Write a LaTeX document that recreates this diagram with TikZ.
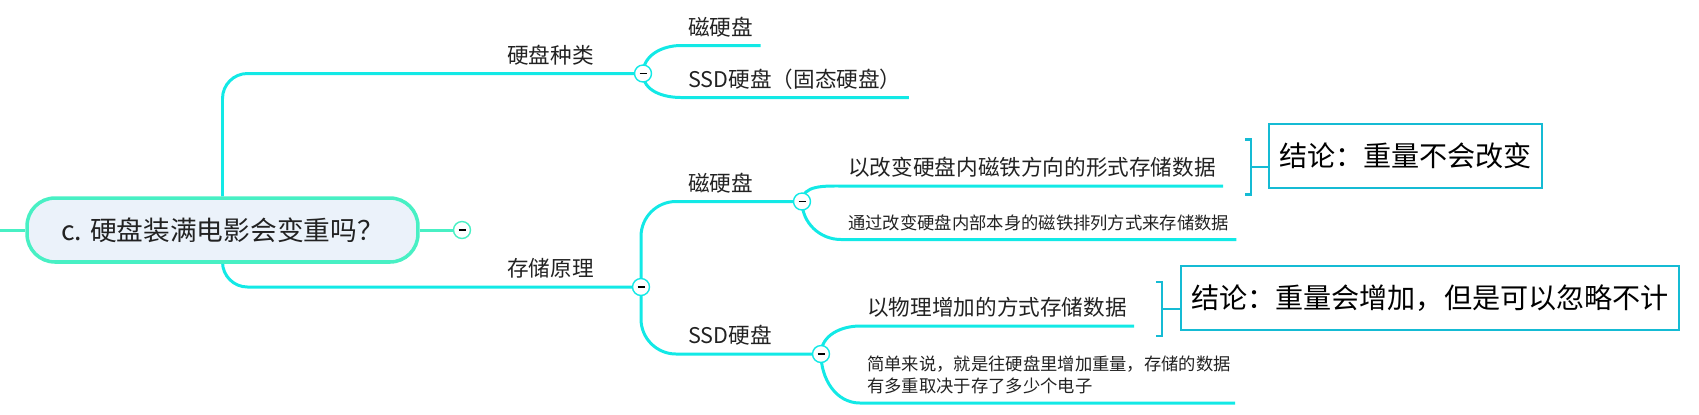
\documentclass[tikz,border=0pt]{standalone}
\usepackage{fontspec}
\setmainfont{Noto Sans CJK SC}
\usetikzlibrary{backgrounds,positioning}
\definecolor{linecyan}{HTML}{12E9E6}
\definecolor{rootmint}{HTML}{48F0C4}
\definecolor{rootfill}{HTML}{EBF2FA}
\definecolor{boxcyan}{HTML}{15BBD4}
\definecolor{inkgray}{HTML}{222222}
\tikzset{
  rootbox/.style={draw=rootmint, fill=rootfill, line width=2pt, rounded corners=0.56cm,
    minimum width=7.82cm, minimum height=1.28cm, text=inkgray,
    font=\fontsize{15.2pt}{18pt}\selectfont},
  fold/.style={circle, draw=linecyan, fill=white, line width=0.8pt, minimum size=0.34cm, inner sep=0pt},
  topic/.style={anchor=south west, inner xsep=0.14cm, inner ysep=0.2cm, text depth=0pt,
    text=inkgray, font=\fontsize{12.3pt}{15pt}\selectfont},
  note/.style={topic, font=\fontsize{9.85pt}{12.5pt}\selectfont},
  concl/.style={draw=boxcyan, fill=white, line width=1.5pt, inner xsep=0.2cm,
    minimum height=1.28cm, font=\fontsize{16pt}{19pt}\selectfont},
  trunk/.style={draw=linecyan, line width=1.7pt, rounded corners=0.5cm},
  twig/.style={draw=linecyan, line width=1.7pt},
  bracket/.style={draw=boxcyan, line width=1.5pt},
}
\newcommand{\foldmark}{\rule{0.14cm}{0.7pt}}

\begin{document}
\begin{tikzpicture}[x=0.02cm, y=-0.02cm]
  \useasboundingbox (0,0) rectangle (1699,414);
  % central topic
  \coordinate (stub) at (0,230);
  \node[rootbox] (root) at (222.5,230) {c. 硬盘装满电影会变重吗？};
  \node[fold, draw=rootmint] (f0) at (462,230) {\foldmark};
  % kinds of hard disk
  \node[fold] (f1) at (643,73.5) {\foldmark};
  \node[topic, anchor=south] (kind) at (550.5,73.5) {硬盘种类};
  \node[topic] (kind1) at (681,45.5) {磁硬盘};
  \node[topic] (kind2) at (681,97.5) {SSD硬盘（固态硬盘）};
  % storage principle
  \node[fold] (f2) at (641,287) {\foldmark};
  \node[topic, anchor=south] (prin) at (550.5,287) {存储原理};
  \node[fold] (f21) at (802,201.5) {\foldmark};
  \node[topic] (mag) at (681,201.5) {磁硬盘};
  \node[topic] (mag1) at (841,186) {以改变硬盘内磁铁方向的形式存储数据};
  \node[note] (mag2) at (841,239.5) {通过改变硬盘内部本身的磁铁排列方式来存储数据};
  \node[fold] (f22) at (821,354) {\foldmark};
  \node[topic] (ssd) at (681,354) {SSD硬盘};
  \node[topic] (ssd1) at (860,326) {以物理增加的方式存储数据};
  \node[anchor=north west, align=left, inner xsep=0.14cm, inner ysep=0pt, text=inkgray,
    font=\fontsize{9.85pt}{12.5pt}\selectfont] (ssd2) at (860,355)
    {简单来说，就是往硬盘里增加重量，存储的数据\\有多重取决于存了多少个电子};
  \coordinate (ssd2a) at (860,403);
  \coordinate (ssd2b) at (1235,403);
  % conclusions
  \node[concl] (res1) at (1405.5,156) {结论：重量不会改变};
  \node[concl] (res2) at (1430,298) {结论：重量会增加，但是可以忽略不计};
  \coordinate (brk1) at (1251,167);
  \coordinate (brk2) at (1162,309);

  \begin{scope}[on background layer]
    \draw[twig, rootmint] (stub) -- (root.west);
    \draw[twig, rootmint] (root.east) -- (f0);
    \draw[trunk] (root.north) |- (f1.center);
    \draw[trunk] (root.south) |- (f2.center);
    \draw[twig] (f1.center) to[out=90,in=180] (kind1.south west) -- (kind1.south east);
    \draw[twig] (f1.center) to[out=-90,in=180] (kind2.south west) -- (kind2.south east);
    \draw[trunk, rounded corners=0.7cm] (f2.center) |- (f21.center);
    \draw[trunk, rounded corners=0.7cm] (f2.center) |- (f22.center);
    \draw[twig] (f21.center) to[out=90,in=180] (mag1.south west) -- (mag1.south east);
    \draw[twig] (f21.center) to[out=-90,in=180] (mag2.south west) -- (mag2.south east);
    \draw[twig] (f22.center) to[out=90,in=180] (ssd1.south west) -- (ssd1.south east);
    \draw[twig] (f22.center) to[out=-90,in=180] (ssd2a) -- (ssd2b);
  \end{scope}

  % brackets
  \draw[bracket] ([xshift=-0.12cm,yshift=0.55cm]brk1) -- ([yshift=0.55cm]brk1)
    -- ([yshift=-0.55cm]brk1) -- ([xshift=-0.12cm,yshift=-0.55cm]brk1);
  \draw[bracket] (brk1) -- (brk1 -| res1.west);
  \draw[bracket] ([xshift=-0.12cm,yshift=0.54cm]brk2) -- ([yshift=0.54cm]brk2)
    -- ([yshift=-0.54cm]brk2) -- ([xshift=-0.12cm,yshift=-0.54cm]brk2);
  \draw[bracket] (brk2) -- (brk2 -| res2.west);
\end{tikzpicture}
\end{document}
